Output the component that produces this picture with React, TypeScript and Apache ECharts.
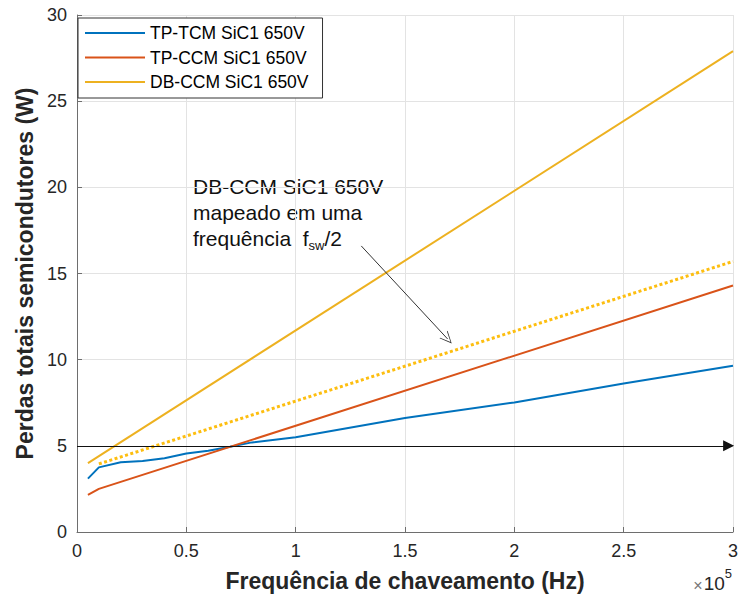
import React, { useEffect, useRef } from "react";
import * as echarts from "echarts";

// x values in units of 1e5 Hz, y values in W
const tcmX = [0.05, 0.1, 0.2, 0.3, 0.4, 0.5, 0.6, 0.7, 0.8, 1.0, 1.5, 2.0, 2.5, 3.0];
const tcmY = [3.1, 3.75, 4.05, 4.12, 4.28, 4.55, 4.72, 4.95, 5.2, 5.5, 6.62, 7.52, 8.62, 9.65];

const ccmX = [0.05, 0.1, 3.0];
const ccmY = [2.15, 2.5, 14.3];

const dbX = [0.05, 3.0];
const dbY = [4.0, 27.9];

const dbHalfX = [0.1, 3.0];
const dbHalfY = [3.95, 15.7];

const seriesNames = ["TP-TCM SiC1 650V", "TP-CCM SiC1 650V", "DB-CCM SiC1 650V"];

const xTickMin = 0;
const xTickMax = 3;
const xTickStep = 0.5;
const yTickMin = 0;
const yTickMax = 30;
const yTickStep = 5;

// reference horizontal line and annotation arrow (data coordinates)
const refLineY = 5;
const refLineX = [0, 2.98];
const annotArrowFrom = [1.3, 16.6];
const annotArrowTo = [1.695, 11.2];

const FONT = 'Arial, "Liberation Sans", Helvetica, sans-serif';

const zip = (xs: number[], ys: number[]) => xs.map((x, i) => [x, ys[i]]);

export default function App() {
  const ref = useRef<HTMLDivElement>(null);

  useEffect(() => {
    if (!ref.current) return;
    const chart = echarts.init(ref.current, null, { renderer: "svg" });
    chart.setOption({
      animation: false,
      backgroundColor: "#ffffff",
      textStyle: { fontFamily: FONT },
      grid: { left: 77, right: 5, top: 15, bottom: 71, containLabel: false, outerBoundsMode: "none" },
      legend: {
        data: seriesNames,
        orient: "vertical",
        left: 78,
        top: 18,
        backgroundColor: "#ffffff",
        borderColor: "#333333",
        borderWidth: 1,
        padding: [5, 14, 6, 7],
        itemGap: 4.5,
        itemWidth: 60,
        itemHeight: 2,
        icon: "rect",
        textStyle: { fontSize: 17.5, color: "#000000", fontFamily: FONT, lineHeight: 20 },
      },
      xAxis: {
        type: "value",
        min: xTickMin,
        max: xTickMax,
        interval: xTickStep,
        name: "Frequência de chaveamento (Hz)",
        nameLocation: "middle",
        nameGap: 37,
        nameTextStyle: { fontSize: 23, fontWeight: "bold", color: "#262626", fontFamily: FONT },
        axisLine: { show: true, lineStyle: { color: "#6e6e6e", width: 1 } },
        axisTick: { show: true, inside: true, length: 5, lineStyle: { color: "#6e6e6e" } },
        axisLabel: { fontSize: 18, color: "#262626", margin: 10, fontFamily: FONT },
        splitLine: { show: true, lineStyle: { color: "#e3e3e3", width: 1 } },
      },
      yAxis: {
        type: "value",
        min: yTickMin,
        max: yTickMax,
        interval: yTickStep,
        name: "Perdas totais semicondutores (W)",
        nameLocation: "middle",
        nameGap: 38,
        nameTextStyle: { fontSize: 23, fontWeight: "bold", color: "#262626", fontFamily: FONT },
        axisLine: { show: true, lineStyle: { color: "#6e6e6e", width: 1 } },
        axisTick: { show: true, inside: true, length: 5, lineStyle: { color: "#6e6e6e" } },
        axisLabel: { fontSize: 18, color: "#262626", margin: 10, fontFamily: FONT },
        splitLine: { show: true, lineStyle: { color: "#e3e3e3", width: 1 } },
      },
      series: [
        {
          name: seriesNames[0],
          type: "line",
          data: zip(tcmX, tcmY),
          showSymbol: false,
          symbol: "none",
          lineStyle: { color: "#0072BD", width: 2 },
          itemStyle: { color: "#0072BD" },
          z: 4,
        },
        {
          name: seriesNames[1],
          type: "line",
          data: zip(ccmX, ccmY),
          showSymbol: false,
          symbol: "none",
          lineStyle: { color: "#D95319", width: 2 },
          itemStyle: { color: "#D95319" },
          z: 4,
        },
        {
          name: seriesNames[2],
          type: "line",
          data: zip(dbX, dbY),
          showSymbol: false,
          symbol: "none",
          lineStyle: { color: "#EDB120", width: 2 },
          itemStyle: { color: "#EDB120" },
          z: 4,
        },
        {
          name: "DB-CCM fsw/2",
          type: "line",
          data: zip(dbHalfX, dbHalfY),
          showSymbol: false,
          symbol: "none",
          lineStyle: { color: "#FDBE10", width: 3, type: [3, 2.5] },
          z: 4,
        },
        {
          name: "arrows",
          type: "line",
          data: [],
          silent: true,
          z: 3,
          markLine: {
            silent: true,
            animation: false,
            label: { show: false },
            emphasis: { disabled: true },
            data: [
              [
                { coord: [refLineX[0], refLineY], symbol: "none", lineStyle: { color: "#111111", width: 1, type: "solid" } },
                { coord: [refLineX[1], refLineY], symbol: "triangle", symbolSize: [11, 11] },
              ],
              [
                { coord: annotArrowFrom, symbol: "none", lineStyle: { color: "#333333", width: 1, type: "solid" } },
                {
                  coord: annotArrowTo,
                  symbol: "path://M0,12 L5,0 L10,12 L9.2,12 L5,1.8 L0.8,12 Z",
                  symbolSize: [11, 12],
                },
              ],
            ],
          },
        },
      ],
      graphic: [
        {
          type: "text",
          left: 193,
          top: 176,
          silent: true,
          style: {
            text: "{n|DB-CCM SiC1 650V}\n{n|mapeado em uma}\n{n|frequência  f}{s|sw}{n|/2}",
            fill: "#111111",
            fontFamily: FONT,
            rich: {
              n: { fontSize: 21, lineHeight: 26, fontFamily: FONT, fill: "#111111" },
              s: { fontSize: 13, lineHeight: 14, verticalAlign: "bottom", fontFamily: FONT, fill: "#111111" },
            },
          },
        },
        {
          type: "text",
          right: 6,
          top: 567,
          silent: true,
          style: {
            text: "{x|×}{b|10}{p|5}",
            fontFamily: FONT,
            rich: {
              x: { fontSize: 16, lineHeight: 26, verticalAlign: "bottom", fill: "#777777", fontFamily: FONT, padding: [0, 1, 0, 0] },
              b: { fontSize: 19, lineHeight: 26, verticalAlign: "bottom", fill: "#262626", fontFamily: FONT },
              p: { fontSize: 13, lineHeight: 14, verticalAlign: "top", fill: "#262626", fontFamily: FONT },
            },
          },
        },
      ],
    });
    return () => chart.dispose();
  }, []);

  return (
    <div
      ref={ref}
      style={{ position: "fixed", left: 0, top: 0, width: 738, height: 603, background: "#fff" }}
    />
  );
}
